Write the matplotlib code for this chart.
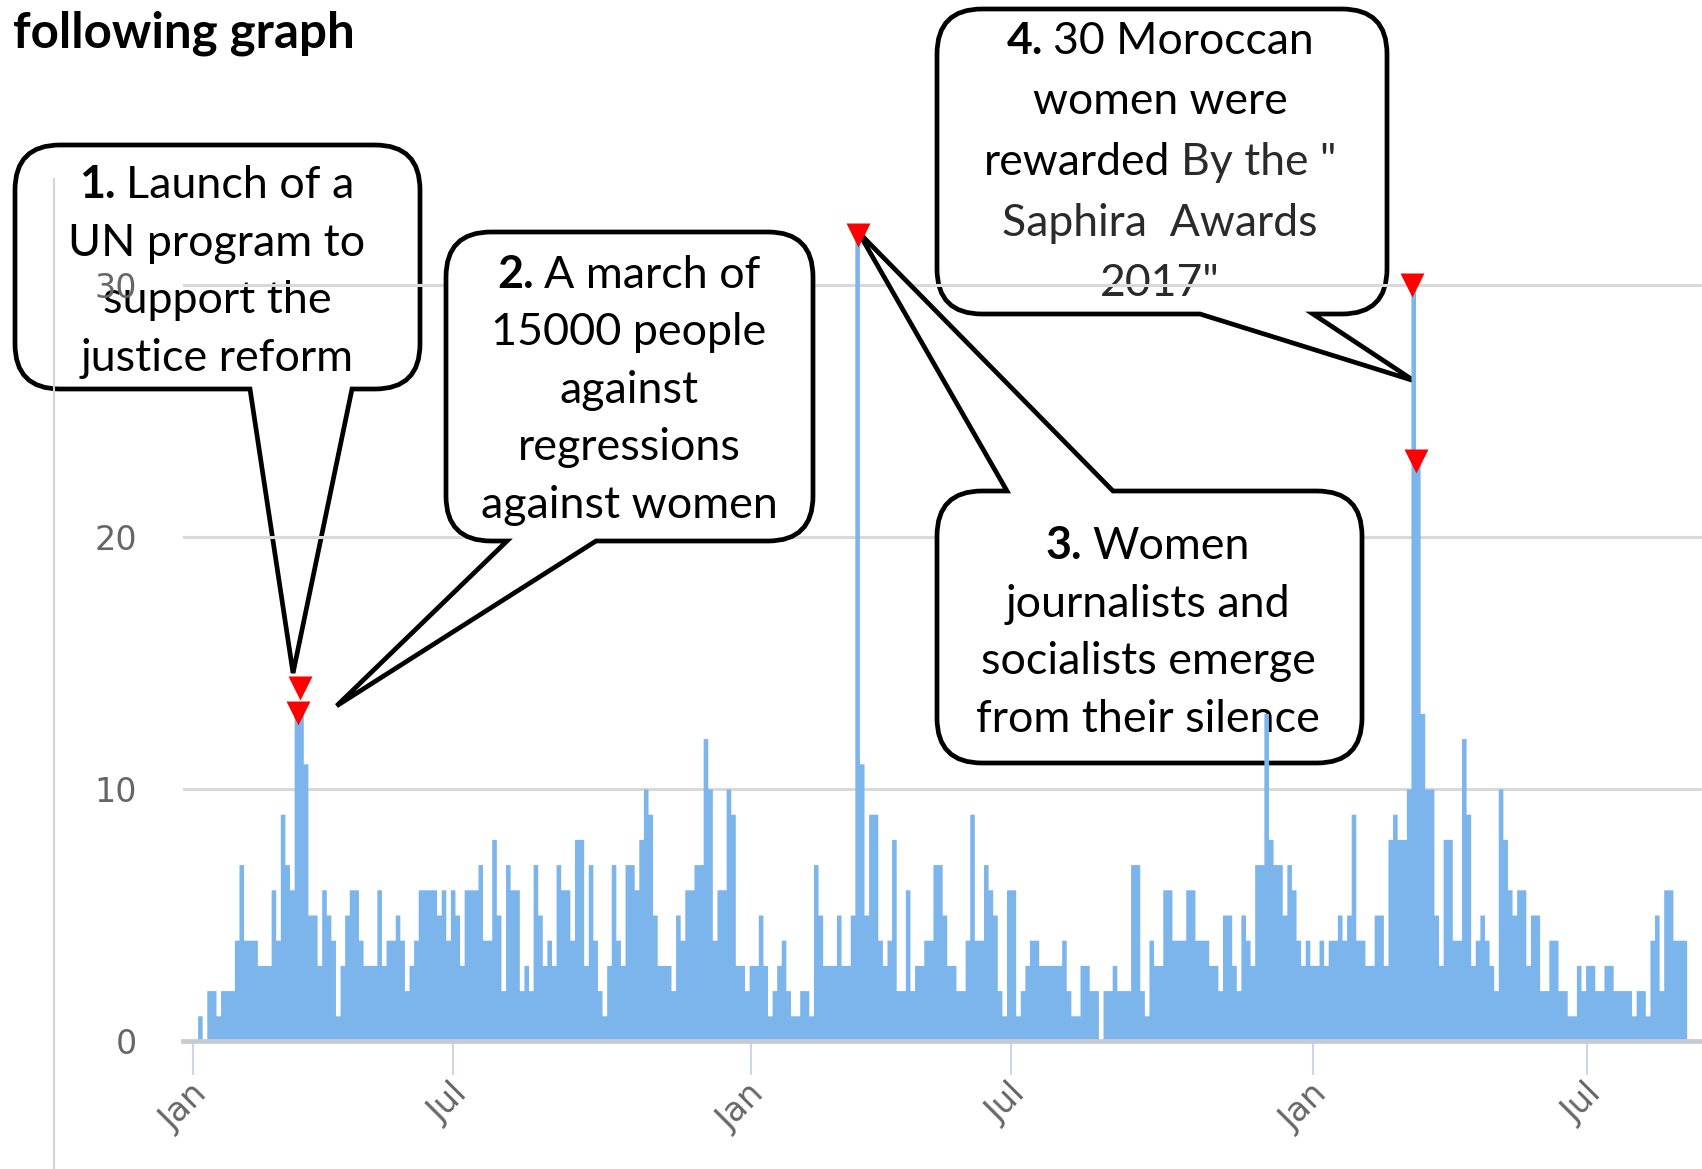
import numpy as np
import matplotlib
matplotlib.use("Agg")
import matplotlib.pyplot as plt  # noqa: E402
import matplotlib.transforms as mtransforms  # noqa: E402
from matplotlib.path import Path  # noqa: E402
from matplotlib.patches import PathPatch  # noqa: E402

W, H = 1702, 1169

# daily mentions, read in 3-day bins; first bin starts on day 3 (4 Jan 2016)
FIRST_DAY = 3
BIN_DAYS = 3
counts = [
    1, 0, 2, 2, 1, 2, 2, 2, 4, 7, 4, 4, 4, 3, 3, 3, 6, 4, 9, 7,
    6, 13, 13, 11, 5, 5, 3, 6, 5, 4, 1, 3, 5, 6, 6, 4, 3, 3, 3, 6,
    3, 4, 4, 5, 4, 2, 3, 4, 6, 6, 6, 6,
    5, 6, 4, 6, 5, 3, 6, 6, 6, 7, 4, 4, 8, 5, 2, 7, 6, 6, 2, 3,
    2, 7, 5, 3, 4, 3, 7, 6, 6, 4, 8, 8, 3, 7, 4, 2, 1, 3, 7, 4,
    3, 7, 7, 6, 8, 10, 9, 5, 3, 3, 3, 2, 5, 4, 6,
    6, 7, 7, 12, 10, 4, 6, 6, 10, 9, 3, 3, 2, 3, 3, 5, 3, 1, 2, 3,
    4, 2, 1, 1, 2, 2, 1, 7, 5, 3, 3, 3, 5, 3, 3, 5, 32, 11, 5, 9,
    9, 4, 3, 4, 8, 2, 2, 6, 2, 3, 3, 4, 4, 7, 7,
    5, 3, 3, 2, 2, 4, 9, 4, 4, 7, 6, 5, 2, 1, 6, 6, 1, 2, 3, 4,
    4, 3, 3, 3, 3, 3, 4, 2, 1, 1, 3, 3, 2, 2, 0, 2, 2, 3, 2, 2,
    2, 7, 7, 2, 1, 4, 3, 3, 6, 6, 4, 4, 4, 6, 6,
    4, 4, 4, 3, 3, 2, 5, 5, 3, 2, 5, 4, 3, 7, 7, 13, 8, 7, 7, 5,
    7, 6, 4, 3, 4, 3, 3, 4, 3, 4, 4, 5, 4, 5, 9, 4, 4, 3, 3, 5,
    5, 3, 8, 9, 8, 8, 10, 30, 23, 13, 10, 10, 5, 3, 8,
    8, 4, 4, 12, 9, 3, 4, 5, 4, 3, 2, 10, 8, 6, 5, 6, 6, 3, 5, 5,
    2, 2, 4, 4, 2, 2, 1, 1, 3, 2, 3, 3, 2, 2, 3, 3, 2, 2, 2, 2,
    1, 2, 2, 1, 4, 5, 2, 6, 6, 4, 4, 4,
]

tick_days = [0, 170, 364, 534, 731, 910]
tick_labels = ["Jan", "Jul", "Jan", "Jul", "Jan", "Jul"]
y_ticks = [0, 10, 20, 30]

# red event flags
flag_days = [68.7, 69.8, 434, 796, 798]
flag_values = [13, 14, 32, 30, 23]

# callouts: text lines, first part of first line is the bold number
GRAY = "#2a2a2a"
note_lines = [
    [[("1.", True, "k"), ("Launch of a", False, "k")],
     [("UN program to", False, "k")],
     [("support the", False, "k")],
     [("justice reform", False, "k")]],
    [[("2.", True, "k"), ("A march of", False, "k")],
     [("15000 people", False, "k")],
     [("against", False, "k")],
     [("regressions", False, "k")],
     [("against women", False, "k")]],
    [[("3.", True, "k"), ("Women", False, "k")],
     [("journalists and", False, "k")],
     [("socialists emerge", False, "k")],
     [("from their silence", False, "k")]],
    [[("4.", True, "k"), ("30 Moroccan", False, "k")],
     [("women were", False, "k")],
     [("rewarded", False, "k"), ('By the "', False, GRAY)],
     [("Saphira  Awards", False, GRAY)],
     [('2017"', False, GRAY)]],
]
note_tips = [(65.3, 14.6), (93.8, 13.3), (434.3, 32.1), (797.0, 26.2)]

# layout of the bubbles in pixels (x0, y0, x1, y1), tail side and base
boxes = [(15, 145, 420, 389), (446, 232, 813, 541),
         (937, 491, 1362, 763), (937, 9, 1387, 314)]
tail_side = ["bottom", "bottom", "top", "bottom"]
tail_base = [(250, 352), (507, 596), (1007, 1113), (1200, 1313)]
text_cx = [217, 629, 1148, 1160]
text_y0 = [198, 287.5, 559, 54]
text_dy = [57.7, 57.6, 57.7, 60.5]
text_size = [32.3, 32.3, 32.3, 32]
opaque = [False, True, True, False]   # bubbles 2 and 3 hide the grid

PX_DAY = 1.532
X0_PX = 193
Y0_PX = 1041
PX_UNIT = 25.2


def bubble(x0, y0, x1, y1, r, side, a, b, tip):
    v, c = [(x0 + r, y0)], [Path.MOVETO]

    def line(p):
        v.append(p); c.append(Path.LINETO)

    def corner(ctrl, end):
        v.extend([ctrl, end]); c.extend([Path.CURVE3, Path.CURVE3])

    if side == "top":
        line((a, y0)); line(tip); line((b, y0))
    line((x1 - r, y0)); corner((x1, y0), (x1, y0 + r))
    line((x1, y1 - r)); corner((x1, y1), (x1 - r, y1))
    if side == "bottom":
        line((b, y1)); line(tip); line((a, y1))
    line((x0 + r, y1)); corner((x0, y1), (x0, y1 - r))
    line((x0, y0 + r)); corner((x0, y0), (x0 + r, y0))
    v.append((x0 + r, y0)); c.append(Path.CLOSEPOLY)
    return Path(v, c)


fig = plt.figure(figsize=(W / 100, H / 100), dpi=100, facecolor="white")

ov = fig.add_axes([0, 0, 1, 1], zorder=0)
ov.set_xlim(0, W)
ov.set_ylim(H, 0)
ov.axis("off")

ymax = 35
ax = fig.add_axes([183 / W, (H - Y0_PX) / H, (W - 183) / W, ymax * PX_UNIT / H],
                  zorder=1)
ax.patch.set_alpha(0)
ax.set_xlim((183 - X0_PX) / PX_DAY, (W - X0_PX) / PX_DAY)
ax.set_ylim(0, ymax)

vals = np.array(counts, dtype=float)
edges = FIRST_DAY + BIN_DAYS * np.arange(len(vals) + 1)
ax.fill_between(edges, np.append(vals, vals[-1]), step="post",
                color="#7cb5ec", lw=0, zorder=2)
ax.plot(flag_days, flag_values, "v", color="#ff0000", ms=17, mec="none",
        zorder=5, clip_on=False)

for s in ("top", "right", "left"):
    ax.spines[s].set_visible(False)
ax.spines["bottom"].set_color("#c7cbd1")
ax.spines["bottom"].set_linewidth(3.4)
ax.set_yticks(y_ticks)
ax.yaxis.grid(True, color="#d9d9d9", lw=2.2, zorder=0)
ax.set_axisbelow(True)
ax.tick_params(axis="y", length=0, pad=33, labelsize=24, labelcolor="#666666")
ax.set_xticks(tick_days)
ax.set_xticklabels(tick_labels, rotation=45, ha="right", va="center",
                   rotation_mode="anchor")
ax.tick_params(axis="x", length=24.5, width=1.5, color="#ccd6eb", pad=10,
               labelsize=24, labelcolor="#666666")
shift = mtransforms.ScaledTranslation(9 / 100, 0, fig.dpi_scale_trans)
for lab in ax.get_xticklabels():
    lab.set_transform(lab.get_transform() + shift)

ov.text(13, 47, "following graph", family="Lato", fontweight="bold",
        fontsize=35.5, va="baseline", ha="left")

renderer = fig.canvas.get_renderer()


def put_line(host, z, cx, y, parts, size):
    gap = 0.23 * size * 100 / 72
    texts = [host.text(0, y, s, family="Lato", fontsize=size,
                       fontweight="bold" if b else "normal", color=col,
                       ha="left", va="baseline", transform=ov.transData,
                       zorder=z, clip_on=False)
             for s, b, col in parts]
    widths = [t.get_window_extent(renderer).width for t in texts]
    x = cx - (sum(widths) + gap * (len(texts) - 1)) / 2
    for t, w in zip(texts, widths):
        t.set_x(x)
        x += w + gap


for i, lines in enumerate(note_lines):
    disp = ax.transData.transform(note_tips[i])
    tip = ov.transData.inverted().transform(disp)
    x0, y0, x1, y1 = boxes[i]
    a, b = tail_base[i]
    path = bubble(x0, y0, x1, y1, 45, tail_side[i], a, b, tuple(tip))
    host, z = (ax, 1.5) if opaque[i] else (ov, 1)
    host.add_patch(PathPatch(path, facecolor="white", edgecolor="black",
                             lw=3.4, joinstyle="miter", zorder=z,
                             transform=ov.transData, clip_on=False))
    for j, parts in enumerate(lines):
        put_line(host, z + 0.1, text_cx[i], text_y0[i] + j * text_dy[i],
                 parts, text_size[i])

# page border line at left, seen through the first bubble
ov.plot([54, 54], [179, H], color="#d4d4d4", lw=1.5, zorder=3)

fig.savefig("out.png", dpi=100)
